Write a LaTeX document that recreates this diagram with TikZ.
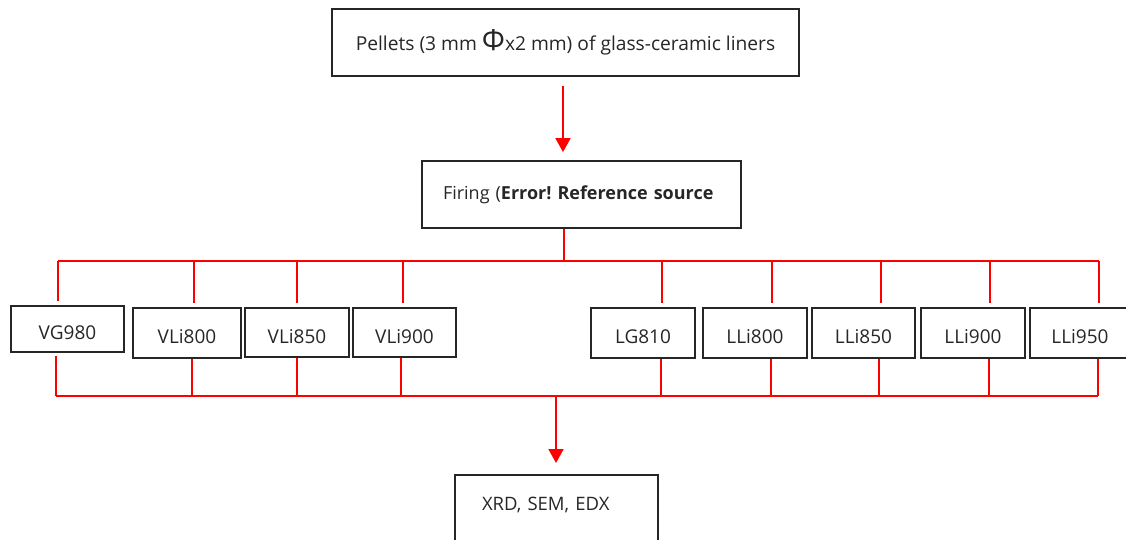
\documentclass[tikz,border=0pt]{standalone}
\usepackage{fontspec}
\setmainfont{Open Sans}
\usetikzlibrary{arrows.meta}
\frenchspacing

\begin{document}
\begin{tikzpicture}[x=1pt,y=-1pt,
		box/.style={draw=black!85,line width=1.8pt,text=black!85,inner sep=0pt,
			font=\fontsize{18}{21}\selectfont},
		cell/.style={box,minimum width=104pt,minimum height=50pt,
			font=\fontsize{19}{22}\selectfont,text height=23pt,text depth=2pt},
		link/.style={red,line width=1.8pt},
		flow/.style={red,line width=1.8pt,-{Triangle[length=14pt,width=15pt]}}]
	\useasboundingbox (0,0) rectangle (1126,540);

	\node (Pel) at (565.5,42.5) [box,minimum width=467pt,minimum height=67pt,
		font=\fontsize{19.2}{22}\selectfont]
		{Pellets (3 mm {\fontsize{29}{29}\selectfont Φ}x2 mm) of glass-ceramic liners};
	\node (Fir) at (581.5,194.5) [box,minimum width=319pt,minimum height=67pt,
		text width=277pt,align=left] {Firing (\textbf{Error! Reference source}};

	\node (VG) at (67.5,329) [cell,minimum width=113pt,minimum height=46pt] {VG980};
	\node (V8) at (187,333) [cell,minimum width=108pt] {VLi800};
	\node (V85) at (297,332.5) [cell,minimum height=49pt] {VLi850};
	\node (V9) at (404.5,332.5) [cell,minimum width=103pt,minimum height=49pt] {VLi900};
	\node (LG) at (643,333) [cell] {LG810};
	\node (L8) at (755,333) [cell] {LLi800};
	\node (L85) at (863.5,333) [cell,minimum width=103pt] {LLi850};
	\node (L9) at (973,333) [cell] {LLi900};
	\node (L95) at (1080,333) [cell,minimum width=100pt] {LLi950};

	\node (XRD) at (556.5,474) [box,anchor=north,minimum width=203pt,text width=149pt,
		align=left,text height=36pt,text depth=60pt,font=\fontsize{18.5}{21}\selectfont]
		{XRD, SEM, EDX};

	\draw[flow,shorten <=9pt,shorten >=8pt] ([xshift=-2.5pt]Pel.south) -- ([xshift=-18.5pt]Fir.north);

	\coordinate (a1) at (58,261);   \coordinate (b1) at (56,396);
	\coordinate (a2) at (194,261);  \coordinate (b2) at (192,396);
	\coordinate (a3) at (297,261);  \coordinate (b3) at (297,396);
	\coordinate (a4) at (403,261);  \coordinate (b4) at (401,396);
	\coordinate (a5) at (662,261);  \coordinate (b5) at (661,396);
	\coordinate (a6) at (772,261);  \coordinate (b6) at (771,396);
	\coordinate (a7) at (881,261);  \coordinate (b7) at (879,396);
	\coordinate (a8) at (990,261);  \coordinate (b8) at (989,396);
	\coordinate (a9) at (1099,261); \coordinate (b9) at (1098,396);
	\coordinate (bm) at (556,396);

	\draw[link] ([xshift=-17.5pt]Fir.south) -- ([xshift=-17.5pt]Fir.south |- a1);
	\draw[link] (a1) -- (a9);
	\draw[link] (b1) -- (b9);

	\draw[link,shorten >=4pt] (a1) -- (a1 |- VG.north);
	\draw[link,shorten >=4pt] (a2) -- (a2 |- V8.north);
	\draw[link,shorten >=4pt] (a3) -- (a3 |- V85.north);
	\draw[link,shorten >=4pt] (a4) -- (a4 |- V9.north);
	\draw[link,shorten >=4pt] (a5) -- (a5 |- LG.north);
	\draw[link,shorten >=4pt] (a6) -- (a6 |- L8.north);
	\draw[link,shorten >=4pt] (a7) -- (a7 |- L85.north);
	\draw[link,shorten >=4pt] (a8) -- (a8 |- L9.north);
	\draw[link,shorten >=4pt] (a9) -- (a9 |- L95.north);

	\draw[link,shorten <=3pt] (b1 |- VG.south) -- (b1);
	\draw[link] (b2 |- V8.south) -- (b2);
	\draw[link] (b3 |- V85.south) -- (b3);
	\draw[link] (b4 |- V9.south) -- (b4);
	\draw[link] (b5 |- LG.south) -- (b5);
	\draw[link] (b6 |- L8.south) -- (b6);
	\draw[link] (b7 |- L85.south) -- (b7);
	\draw[link] (b8 |- L9.south) -- (b8);
	\draw[link] (b9 |- L95.south) -- (b9);

	\draw[flow,shorten >=11pt] (bm) -- (bm |- XRD.north);
\end{tikzpicture}
\end{document}
